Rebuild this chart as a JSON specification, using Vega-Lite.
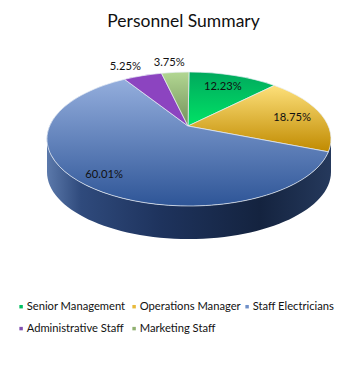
{
"$schema":"https://vega.github.io/schema/vega-lite/v6.json",
"width":361,"height":336,
"autosize":{"type":"none"},
"padding":{"top":30,"left":0,"right":0,"bottom":0},
"background":"white",
"title":{"text":"Personnel Summary","font":"Lato","fontSize":17.5,"fontWeight":"normal","color":"#111111","anchor":"middle","offset":0,"dx":3},
"config":{"view":{"stroke":null}},
"data":{"values":[
{"order":1,"category":"Senior Management","share":12.23},
{"order":2,"category":"Operations Manager","share":18.75},
{"order":3,"category":"Staff Electricians","share":60.01},
{"order":4,"category":"Administrative Staff","share":5.25},
{"order":5,"category":"Marketing Staff","share":3.75}
]},
"transform":[
{"joinaggregate":[{"op":"sum","field":"share","as":"total"}]},
{"window":[{"op":"sum","field":"share","as":"cum"}],"sort":[{"field":"order","order":"ascending"}]},
{"calculate":"2*PI*datum.cum/datum.total","as":"a1"},
{"calculate":"2*PI*(datum.cum-datum.share)/datum.total","as":"a0"},
{"calculate":"2*atan2(0.826*sin(datum.a0/2),cos(datum.a0/2))","as":"t0"},
{"calculate":"2*atan2(0.826*sin(datum.a1/2),cos(datum.a1/2))","as":"t1"},
{"calculate":"2*atan2(0.826*sin((datum.a0+datum.a1)/4),cos((datum.a0+datum.a1)/4))","as":"tm"},
{"calculate":"'M0 0L'+(1+142*sin(datum.t0))+' '+(13-67*cos(datum.t0))+'A142 67 0 '+((datum.t1-datum.t0)>PI?1:0)+' 1 '+(1+142*sin(datum.t1))+' '+(13-67*cos(datum.t1))+'Z'","as":"slice"},
{"calculate":"(datum.share<10?1.35:0.8)*(1+142*sin(datum.tm))","as":"lx"},
{"calculate":"(datum.share<10?1.22:0.8)*(13-67*cos(datum.tm))","as":"ly"},
{"calculate":"format(datum.share,'.2f')+'%'","as":"label"}
],
"layer":[
{"transform":[{"filter":"datum.order==3"}],
 "mark":{"type":"point","filled":true,"opacity":1,"size":4,"shape":"M-141 13A142 67 0 0 0 143 13L143 46A142 67 0 0 1 -141 46Z",
  "fill":{"gradient":"linear","x1":0,"y1":0,"x2":1,"y2":0,"stops":[{"offset":0,"color":"#5b79ab"},{"offset":0.12,"color":"#2f4a7c"},{"offset":0.4,"color":"#1e335d"},{"offset":0.75,"color":"#14233f"},{"offset":1,"color":"#25395c"}]}},
 "encoding":{"x":{"datum":0,"scale":{"domain":[-188,173],"nice":false,"zero":false},"axis":null},
  "y":{"datum":0,"scale":{"domain":[-96,240],"nice":false,"zero":false,"reverse":true},"axis":null}}},
{"transform":[{"filter":"datum.order==1"}],
 "mark":{"type":"point","filled":true,"opacity":1,"size":4,"stroke":"#e8eef5","strokeWidth":0.7,
  "fill":{"gradient":"linear","x1":0,"y1":0,"x2":0,"y2":1,"stops":[{"offset":0,"color":"#00a95d"},{"offset":1,"color":"#00e366"}]}},
 "encoding":{"x":{"datum":0},"y":{"datum":0},"shape":{"field":"slice","type":"nominal","scale":null}}},
{"transform":[{"filter":"datum.order==2"}],
 "mark":{"type":"point","filled":true,"opacity":1,"size":4,"stroke":"#e8eef5","strokeWidth":0.7,
  "fill":{"gradient":"linear","x1":0,"y1":0,"x2":0,"y2":1,"stops":[{"offset":0,"color":"#fde07a"},{"offset":1,"color":"#c08a00"}]}},
 "encoding":{"x":{"datum":0},"y":{"datum":0},"shape":{"field":"slice","type":"nominal","scale":null}}},
{"transform":[{"filter":"datum.order==3"}],
 "mark":{"type":"point","filled":true,"opacity":1,"size":4,"stroke":"#e8eef5","strokeWidth":0.7,
  "fill":{"gradient":"linear","x1":0,"y1":0,"x2":0,"y2":1,"stops":[{"offset":0,"color":"#94aedd"},{"offset":1,"color":"#2e5597"}]}},
 "encoding":{"x":{"datum":0},"y":{"datum":0},"shape":{"field":"slice","type":"nominal","scale":null}}},
{"transform":[{"filter":"datum.order==4"}],
 "mark":{"type":"point","filled":true,"opacity":1,"size":4,"stroke":"#e8eef5","strokeWidth":0.7,"fill":"#8c44c0"},
 "encoding":{"x":{"datum":0},"y":{"datum":0},"shape":{"field":"slice","type":"nominal","scale":null}}},
{"transform":[{"filter":"datum.order==5"}],
 "mark":{"type":"point","filled":true,"opacity":1,"size":4,"stroke":"#e8eef5","strokeWidth":0.7,
  "fill":{"gradient":"linear","x1":0,"y1":0,"x2":0,"y2":1,"stops":[{"offset":0,"color":"#b2d792"},{"offset":1,"color":"#73905a"}]}},
 "encoding":{"x":{"datum":0},"y":{"datum":0},"shape":{"field":"slice","type":"nominal","scale":null}}},
{"mark":{"type":"point","filled":true,"opacity":0,"size":1},
 "encoding":{"x":{"datum":0},"y":{"datum":0},
  "color":{"field":"category","type":"nominal",
   "scale":{"domain":["Senior Management","Administrative Staff","Operations Manager","Marketing Staff","Staff Electricians"],
    "range":["#00c060","#8050b0","#e8b93a","#90b070","#7090c8"]},
   "legend":{"orient":"none","legendX":15.5,"legendY":271,"columns":3,"title":null,"symbolType":"square","symbolSize":12,"symbolStrokeWidth":0,"symbolOpacity":1,"labelFont":"Lato","labelFontSize":11.2,"labelColor":"#111111","gridAlign":"all","columnPadding":-6,"rowPadding":10,"labelOffset":0,"labelLimit":120}}}},
{"mark":{"type":"text","font":"Lato","fontSize":11.2,"color":"#111111","align":"center","baseline":"middle","dx":-1.5,"dy":2},
 "encoding":{"x":{"field":"lx","type":"quantitative"},
  "y":{"field":"ly","type":"quantitative"},
  "text":{"field":"label","type":"nominal"}}}
]
}
